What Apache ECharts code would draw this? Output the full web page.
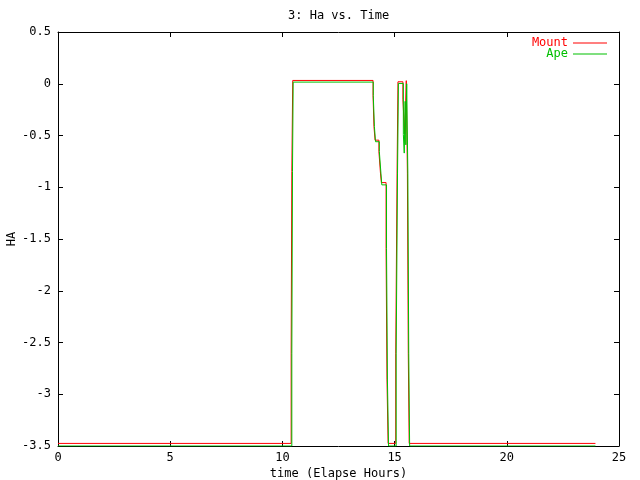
<!DOCTYPE html>
<html>
<head>
<meta charset="utf-8">
<script src="https://cdn.jsdelivr.net/npm/echarts@6/dist/echarts.min.js"></script>
<style>html,body{margin:0;padding:0;background:#fff;}#c{width:640px;height:480px;}</style>
</head>
<body>
<div id="c"></div>
<script>
var titleText = '3: Ha vs. Time';
var xName = 'time (Elapse Hours)';
var yName = 'HA';
var seriesNames = ['Mount', 'Ape'];
var xTickMin = 0, xTickMax = 25, xTickStep = 5;
var yTickMin = -3.5, yTickMax = 0.5, yTickStep = 0.5;

var mountTimes  = [0, 10.39, 10.42, 10.46, 14.04, 14.08, 14.13, 14.30, 14.37, 14.41, 14.62, 14.66, 14.71, 15.05, 15.11, 15.15, 15.37, 15.45, 15.52, 15.57, 15.61, 15.65, 23.95];
var mountValues = [-3.475, -2.61, -0.85, 0.032, -0.113, -0.413, -0.545, -0.655, -0.863, -0.955, -1.59, -2.853, -3.475, -2.61, -0.863, 0.019, -0.155, -0.485, 0.03, -0.863, -2.61, -3.475, -3.475];

var apeTimes  = [0, 10.42, 10.45, 10.48, 14.05, 14.10, 14.15, 14.32, 14.39, 14.43, 14.64, 14.68, 14.73, 15.07, 15.13, 15.17, 15.39, 15.43, 15.47, 15.50, 15.54, 15.59, 15.63, 15.67, 23.95];
var apeValues = [-3.5, -2.61, -0.85, 0.016, -0.116, -0.413, -0.56, -0.655, -0.863, -0.977, -1.59, -2.853, -3.5, -2.61, -0.863, 0.003, -0.49, -0.67, -0.17, -0.59, 0.0, -0.863, -2.61, -3.5, -3.5];

function zip(a, b) { return a.map(function (t, i) { return [t, b[i]]; }); }

var FONT = 'DejaVu Sans Mono';
var RED = '#ff0000', GREEN = '#00c000';

var chart = echarts.init(document.getElementById('c'), null, {renderer: 'canvas'});

function xAx(pos, showLabel, name) {
  return {
    type: 'value', position: pos, min: xTickMin, max: xTickMax, interval: xTickStep,
    name: name || '', nameLocation: 'middle', nameGap: 22, nameMoveOverlap: false,
    nameTextStyle: {fontFamily: FONT, fontSize: 12, color: '#000'},
    axisLine: {show: true, onZero: false, lineStyle: {color: '#000', width: 1}},
    axisTick: {show: true, inside: true, length: 5, lineStyle: {color: '#000'}},
    axisLabel: {show: showLabel, margin: 6, fontFamily: FONT, fontSize: 12, color: '#000'},
    splitLine: {show: false}
  };
}
function yAx(pos, showLabel, name) {
  return {
    type: 'value', position: pos, min: yTickMin, max: yTickMax, interval: yTickStep,
    name: name || '', nameLocation: 'middle', nameGap: 40, nameRotate: 90, nameMoveOverlap: false,
    nameTextStyle: {fontFamily: FONT, fontSize: 12, color: '#000'},
    axisLine: {show: true, onZero: false, lineStyle: {color: '#000', width: 1}},
    axisTick: {show: true, inside: true, length: 5, lineStyle: {color: '#000'}},
    axisLabel: {show: showLabel, margin: 7, fontFamily: FONT, fontSize: 12, color: '#000'},
    splitLine: {show: false}
  };
}

var option = {
  animation: false,
  backgroundColor: '#fff',
  textStyle: {fontFamily: FONT},
  title: {
    text: titleText, left: 288, top: 10, padding: 0,
    textStyle: {fontFamily: FONT, fontSize: 12, fontWeight: 'normal', color: '#000'}
  },
  legend: [
    {
      data: [{name: seriesNames[0], textStyle: {color: RED}}],
      right: 33, top: 37, padding: 0, align: 'right', icon: 'rect',
      itemWidth: 34, itemHeight: 1, itemGap: 0,
      textStyle: {fontFamily: FONT, fontSize: 12}
    },
    {
      data: [{name: seriesNames[1], textStyle: {color: GREEN}}],
      right: 33, top: 48, padding: 0, align: 'right', icon: 'rect',
      itemWidth: 34, itemHeight: 1, itemGap: 0,
      textStyle: {fontFamily: FONT, fontSize: 12}
    }
  ],
  grid: {left: 58, top: 32, width: 561, height: 414, containLabel: false, outerBoundsMode: 'none'},
  xAxis: [xAx('bottom', true, xName), xAx('top', false)],
  yAxis: [yAx('left', true, yName), yAx('right', false)],
  series: [
    {
      name: seriesNames[0], type: 'line', step: 'end', showSymbol: false, symbol: 'none',
      data: zip(mountTimes, mountValues),
      lineStyle: {color: RED, width: 1}, itemStyle: {color: RED}, z: 2
    },
    {
      name: seriesNames[1], type: 'line', step: 'end', showSymbol: false, symbol: 'none',
      data: zip(apeTimes, apeValues),
      lineStyle: {color: GREEN, width: 1}, itemStyle: {color: GREEN}, z: 3
    }
  ]
};
chart.setOption(option);
</script>
</body>
</html>
